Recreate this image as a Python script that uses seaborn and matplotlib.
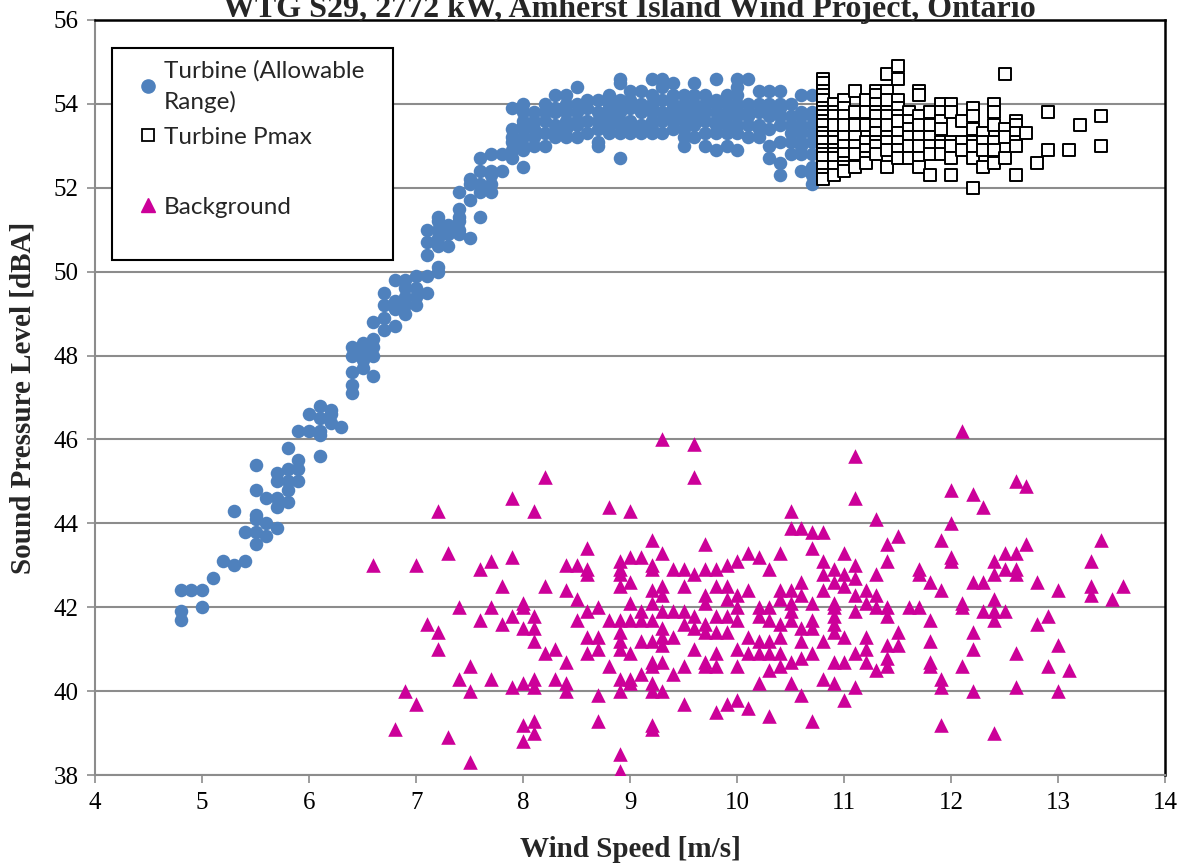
import seaborn as sns
import matplotlib.pyplot as plt
import matplotlib.lines as mlines
from matplotlib.patches import Rectangle
import pandas as pd

# turbine operating in allowable range: (wind speed, SPL)
turbine_pts = [
    (4.8, 42.4), (4.8, 41.9), (4.8, 41.7), (4.9, 42.4), (5.0, 42.4), (5.0, 42.0),
    (5.1, 42.7), (5.2, 43.1), (5.3, 43.0), (5.3, 44.3), (5.4, 43.1), (5.4, 43.8),
    (5.5, 43.5), (5.5, 43.8), (5.5, 44.1), (5.5, 44.2), (5.5, 44.8), (5.5, 45.4),
    (5.6, 43.7), (5.6, 44.0), (5.6, 44.6),
    (5.7, 43.9), (5.7, 44.4), (5.7, 44.6), (5.7, 45.0), (5.7, 45.2),
    (5.8, 44.5), (5.8, 44.8), (5.8, 45.0), (5.8, 45.3), (5.8, 45.8),
    (5.9, 45.0), (5.9, 45.3), (5.9, 45.5), (5.9, 46.2), (6.0, 46.2), (6.0, 46.6),
    (6.1, 45.6), (6.1, 46.1), (6.1, 46.2), (6.1, 46.5), (6.1, 46.8),
    (6.2, 46.4), (6.2, 46.6), (6.2, 46.7), (6.3, 46.3),
    (6.4, 47.1), (6.4, 47.3), (6.4, 47.6), (6.4, 48.0), (6.4, 48.2),
    (6.5, 47.7), (6.5, 47.9), (6.5, 48.1), (6.5, 48.3),
    (6.6, 47.5), (6.6, 48.0), (6.6, 48.2), (6.6, 48.4), (6.6, 48.8),
    (6.7, 48.6), (6.7, 48.9), (6.7, 49.2), (6.7, 49.5),
    (6.8, 48.7), (6.8, 49.1), (6.8, 49.3), (6.8, 49.8),
    (6.9, 49.0), (6.9, 49.2), (6.9, 49.4), (6.9, 49.6), (6.9, 49.8),
    (7.0, 49.2), (7.0, 49.4), (7.0, 49.6), (7.0, 49.9),
    (7.1, 49.5), (7.1, 49.9), (7.1, 50.4), (7.1, 50.7), (7.1, 51.0),
    (7.2, 50.0), (7.2, 50.1), (7.2, 50.6), (7.2, 50.8), (7.2, 51.0), (7.2, 51.2), (7.2, 51.3),
    (7.3, 50.6), (7.3, 50.9), (7.3, 51.1),
    (7.4, 50.9), (7.4, 51.0), (7.4, 51.2), (7.4, 51.3), (7.4, 51.5), (7.4, 51.9),
    (7.5, 50.8), (7.5, 51.7), (7.5, 52.1), (7.5, 52.2),
    (7.6, 51.3), (7.6, 51.9), (7.6, 52.1), (7.6, 52.4), (7.6, 52.7),
    (7.7, 51.9), (7.7, 52.1), (7.7, 52.3), (7.7, 52.4), (7.7, 52.8),
    (7.8, 52.4), (7.8, 52.8),
    (7.9, 52.7), (7.9, 52.9), (7.9, 53.1), (7.9, 53.2), (7.9, 53.4), (7.9, 53.9),
    (8.0, 52.5), (8.0, 52.9), (8.0, 53.0), (8.0, 53.2), (8.0, 53.4), (8.0, 53.5),
    (8.0, 53.6), (8.0, 53.8), (8.0, 54.0),
    (8.1, 53.0), (8.1, 53.2), (8.1, 53.4), (8.1, 53.6), (8.1, 53.8),
    (8.2, 53.0), (8.2, 53.3), (8.2, 53.6), (8.2, 53.8), (8.2, 54.0),
    (8.3, 53.2), (8.3, 53.3), (8.3, 53.5), (8.3, 53.8), (8.3, 53.9), (8.3, 54.2),
    (8.4, 53.2), (8.4, 53.4), (8.4, 53.6), (8.4, 53.8), (8.4, 54.0), (8.4, 54.2),
    (8.5, 53.2), (8.5, 53.5), (8.5, 53.6), (8.5, 53.8), (8.5, 54.0), (8.5, 54.4),
    (8.6, 53.3), (8.6, 53.6), (8.6, 53.9), (8.6, 54.1),
    (8.7, 53.0), (8.7, 53.1), (8.7, 53.4), (8.7, 53.6), (8.7, 53.8), (8.7, 54.1),
    (8.8, 53.3), (8.8, 53.5), (8.8, 53.7), (8.8, 53.9), (8.8, 54.0), (8.8, 54.2),
    (8.9, 52.7), (8.9, 53.3), (8.9, 53.5), (8.9, 53.6), (8.9, 53.8), (8.9, 53.9),
    (8.9, 54.1), (8.9, 54.5), (8.9, 54.6),
    (9.0, 53.3), (9.0, 53.4), (9.0, 53.6), (9.0, 53.9), (9.0, 54.1), (9.0, 54.3),
    (9.1, 53.3), (9.1, 53.5), (9.1, 53.8), (9.1, 54.0), (9.1, 54.3),
    (9.2, 53.3), (9.2, 53.4), (9.2, 53.6), (9.2, 53.8), (9.2, 53.9), (9.2, 54.0),
    (9.2, 54.2), (9.2, 54.6),
    (9.3, 53.3), (9.3, 53.6), (9.3, 53.8), (9.3, 54.1), (9.3, 54.4), (9.3, 54.6),
    (9.4, 53.4), (9.4, 53.6), (9.4, 53.7), (9.4, 53.9), (9.4, 54.0), (9.4, 54.2), (9.4, 54.5),
    (9.5, 53.0), (9.5, 53.2), (9.5, 53.4), (9.5, 53.6), (9.5, 53.8), (9.5, 53.9),
    (9.5, 54.0), (9.5, 54.2),
    (9.6, 53.2), (9.6, 53.5), (9.6, 53.7), (9.6, 53.9), (9.6, 54.0), (9.6, 54.2), (9.6, 54.5),
    (9.7, 53.0), (9.7, 53.3), (9.7, 53.6), (9.7, 53.8), (9.7, 54.0), (9.7, 54.2),
    (9.8, 52.9), (9.8, 53.3), (9.8, 53.5), (9.8, 53.6), (9.8, 53.8), (9.8, 54.0),
    (9.8, 54.1), (9.8, 54.6),
    (9.9, 53.0), (9.9, 53.3), (9.9, 53.5), (9.9, 53.7), (9.9, 53.8), (9.9, 54.0), (9.9, 54.2),
    (10.0, 52.9), (10.0, 53.3), (10.0, 53.5), (10.0, 53.7), (10.0, 53.8), (10.0, 54.0),
    (10.0, 54.2), (10.0, 54.4), (10.0, 54.6),
    (10.1, 53.2), (10.1, 53.5), (10.1, 53.7), (10.1, 53.8), (10.1, 54.0), (10.1, 54.6),
    (10.2, 53.2), (10.2, 53.4), (10.2, 53.5), (10.2, 53.8), (10.2, 54.0), (10.2, 54.3),
    (10.3, 52.7), (10.3, 53.0), (10.3, 53.4), (10.3, 53.7), (10.3, 53.8), (10.3, 54.0), (10.3, 54.3),
    (10.4, 52.3), (10.4, 52.6), (10.4, 53.1), (10.4, 53.5), (10.4, 53.7), (10.4, 53.9),
    (10.4, 54.0), (10.4, 54.3),
    (10.5, 52.8), (10.5, 53.1), (10.5, 53.3), (10.5, 53.5), (10.5, 53.7), (10.5, 54.0),
    (10.6, 52.4), (10.6, 52.8), (10.6, 53.0), (10.6, 53.1), (10.6, 53.3), (10.6, 53.5),
    (10.6, 53.7), (10.6, 53.8), (10.6, 54.2),
    (10.7, 52.1), (10.7, 52.3), (10.7, 52.5), (10.7, 52.8), (10.7, 53.1), (10.7, 53.3),
    (10.7, 53.5), (10.7, 53.7), (10.7, 53.8), (10.7, 54.2),
]

# turbine at max power
pmax_pts = [
    (10.8, 54.6), (10.8, 54.5), (10.8, 54.3), (10.8, 54.2), (10.8, 54.1), (10.8, 53.9),
    (10.8, 53.8), (10.8, 53.7), (10.8, 53.6), (10.8, 53.5), (10.8, 53.3), (10.8, 53.2),
    (10.8, 53.1), (10.8, 52.9), (10.8, 52.8), (10.8, 52.7), (10.8, 52.5), (10.8, 52.3), (10.8, 52.2),
    (10.9, 54.0), (10.9, 53.8), (10.9, 53.7), (10.9, 53.5), (10.9, 53.2), (10.9, 53.1),
    (10.9, 52.9), (10.9, 52.8), (10.9, 52.7), (10.9, 52.5), (10.9, 52.3),
    (11.0, 54.1), (11.0, 53.9), (11.0, 53.7), (11.0, 53.5), (11.0, 53.2), (11.0, 53.0),
    (11.0, 52.8), (11.0, 52.6), (11.0, 52.5), (11.0, 52.4),
    (11.1, 54.3), (11.1, 53.8), (11.1, 53.5), (11.1, 53.2), (11.1, 53.0), (11.1, 52.8), (11.1, 52.5),
    (11.2, 54.1), (11.2, 53.8), (11.2, 53.5), (11.2, 53.1), (11.2, 52.9), (11.2, 52.7), (11.2, 52.6),
    (11.3, 54.3), (11.3, 54.2), (11.3, 54.0), (11.3, 53.8), (11.3, 53.7), (11.3, 53.5),
    (11.3, 53.3), (11.3, 53.1), (11.3, 53.0), (11.3, 52.8),
    (11.4, 54.7), (11.4, 54.3), (11.4, 54.1), (11.4, 53.8), (11.4, 53.7), (11.4, 53.5),
    (11.4, 53.2), (11.4, 53.1), (11.4, 52.9), (11.4, 52.5),
    (11.5, 54.9), (11.5, 54.6), (11.5, 54.1), (11.5, 53.9), (11.5, 53.7), (11.5, 53.6),
    (11.5, 53.3), (11.5, 53.1), (11.5, 52.9), (11.5, 52.7),
    (11.6, 53.8), (11.6, 53.6), (11.6, 53.4), (11.6, 53.2), (11.6, 53.0), (11.6, 52.7),
    (11.7, 54.3), (11.7, 54.2), (11.7, 53.7), (11.7, 53.5), (11.7, 53.2), (11.7, 53.0),
    (11.7, 52.7), (11.7, 52.5),
    (11.8, 53.8), (11.8, 53.5), (11.8, 53.2), (11.8, 53.0), (11.8, 52.8), (11.8, 52.3),
    (11.9, 54.0), (11.9, 53.8), (11.9, 53.6), (11.9, 53.4), (11.9, 53.1), (11.9, 53.0), (11.9, 52.8),
    (12.0, 54.0), (12.0, 53.8), (12.0, 53.1), (12.0, 53.0), (12.0, 52.7), (12.0, 52.3),
    (12.1, 53.6), (12.1, 53.1), (12.1, 52.9),
    (12.2, 53.9), (12.2, 53.7), (12.2, 53.4), (12.2, 53.1), (12.2, 53.0), (12.2, 52.7), (12.2, 52.0),
    (12.3, 53.3), (12.3, 53.1), (12.3, 52.9), (12.3, 52.5),
    (12.4, 54.0), (12.4, 53.8), (12.4, 53.5), (12.4, 53.1), (12.4, 52.9), (12.4, 52.6),
    (12.5, 54.7), (12.5, 53.4), (12.5, 53.2), (12.5, 52.7),
    (12.6, 53.6), (12.6, 53.5), (12.6, 53.3), (12.6, 53.1), (12.6, 53.0), (12.6, 52.3),
    (12.7, 53.3), (12.8, 52.6), (12.9, 53.8), (12.9, 52.9), (13.1, 52.9), (13.2, 53.5),
    (13.4, 53.7), (13.4, 53.0),
]

# background (turbine off)
background_pts = [
    (6.6, 43.0), (6.8, 39.1), (6.9, 40.0), (7.0, 39.7), (7.0, 43.0), (7.1, 41.6),
    (7.2, 44.3), (7.2, 41.4), (7.2, 41.0), (7.3, 43.3), (7.3, 38.9), (7.4, 42.0), (7.4, 40.3),
    (7.5, 40.6), (7.5, 40.0), (7.5, 38.3), (7.6, 42.9), (7.6, 41.7),
    (7.7, 43.1), (7.7, 42.0), (7.7, 40.3), (7.8, 42.5), (7.8, 41.6),
    (7.9, 44.6), (7.9, 43.2), (7.9, 41.8), (7.9, 40.1),
    (8.0, 42.1), (8.0, 42.0), (8.0, 41.5), (8.0, 40.2), (8.0, 39.2), (8.0, 38.8),
    (8.1, 44.3), (8.1, 41.8), (8.1, 41.5), (8.1, 41.2), (8.1, 40.3), (8.1, 40.1),
    (8.1, 39.3), (8.1, 39.0),
    (8.2, 45.1), (8.2, 42.5), (8.2, 40.9), (8.3, 41.0), (8.3, 40.3),
    (8.4, 43.0), (8.4, 42.4), (8.4, 40.7), (8.4, 40.2), (8.4, 40.0),
    (8.5, 43.0), (8.5, 42.2), (8.5, 41.7),
    (8.6, 43.4), (8.6, 42.9), (8.6, 42.8), (8.6, 41.9), (8.6, 41.3), (8.6, 40.9),
    (8.7, 42.0), (8.7, 41.3), (8.7, 41.0), (8.7, 39.9), (8.7, 39.3),
    (8.8, 44.4), (8.8, 41.7), (8.8, 40.6),
    (8.9, 43.1), (8.9, 42.9), (8.9, 42.8), (8.9, 42.5), (8.9, 41.7), (8.9, 41.4),
    (8.9, 41.2), (8.9, 41.0), (8.9, 40.3), (8.9, 40.0), (8.9, 38.5), (8.9, 38.1),
    (9.0, 44.3), (9.0, 43.2), (9.0, 42.6), (9.0, 42.1), (9.0, 41.7), (9.0, 40.9),
    (9.0, 40.3), (9.0, 40.2),
    (9.1, 43.2), (9.1, 41.9), (9.1, 41.7), (9.1, 41.2), (9.1, 40.4),
    (9.2, 43.6), (9.2, 43.0), (9.2, 42.9), (9.2, 42.4), (9.2, 42.1), (9.2, 41.7),
    (9.2, 41.2), (9.2, 40.7), (9.2, 40.6), (9.2, 40.2), (9.2, 40.0), (9.2, 39.2), (9.2, 39.1),
    (9.3, 46.0), (9.3, 43.3), (9.3, 42.5), (9.3, 42.3), (9.3, 41.9), (9.3, 41.5),
    (9.3, 41.3), (9.3, 41.1), (9.3, 40.7), (9.3, 40.0),
    (9.4, 42.9), (9.4, 41.9), (9.4, 41.3), (9.4, 40.4),
    (9.5, 42.9), (9.5, 42.5), (9.5, 41.9), (9.5, 41.6), (9.5, 40.6), (9.5, 39.7),
    (9.6, 45.9), (9.6, 45.1), (9.6, 42.8), (9.6, 41.8), (9.6, 41.5), (9.6, 41.0),
    (9.7, 43.5), (9.7, 42.9), (9.7, 42.3), (9.7, 42.1), (9.7, 41.6), (9.7, 41.4),
    (9.7, 40.7), (9.7, 40.6),
    (9.8, 42.9), (9.8, 42.5), (9.8, 41.8), (9.8, 41.4), (9.8, 40.9), (9.8, 40.6), (9.8, 39.5),
    (9.9, 43.0), (9.9, 42.5), (9.9, 42.2), (9.9, 41.8), (9.9, 41.4), (9.9, 39.7),
    (10.0, 43.1), (10.0, 42.3), (10.0, 42.0), (10.0, 41.7), (10.0, 41.0), (10.0, 40.6), (10.0, 39.8),
    (10.1, 43.3), (10.1, 42.4), (10.1, 41.3), (10.1, 40.9), (10.1, 39.6),
    (10.2, 43.2), (10.2, 42.0), (10.2, 41.8), (10.2, 41.2), (10.2, 40.9), (10.2, 40.2),
    (10.3, 42.9), (10.3, 42.0), (10.3, 41.7), (10.3, 41.2), (10.3, 40.9), (10.3, 40.5), (10.3, 39.4),
    (10.4, 43.3), (10.4, 42.4), (10.4, 42.2), (10.4, 41.6), (10.4, 41.3), (10.4, 40.9), (10.4, 40.6),
    (10.5, 44.3), (10.5, 43.9), (10.5, 42.4), (10.5, 42.1), (10.5, 41.9), (10.5, 41.7),
    (10.5, 40.7), (10.5, 40.2),
    (10.6, 43.9), (10.6, 42.6), (10.6, 42.3), (10.6, 41.5), (10.6, 41.2), (10.6, 40.8), (10.6, 39.9),
    (10.7, 43.8), (10.7, 43.4), (10.7, 42.1), (10.7, 41.7), (10.7, 41.5), (10.7, 40.9), (10.7, 39.3),
    (10.8, 43.8), (10.8, 43.1), (10.8, 42.8), (10.8, 42.4), (10.8, 41.2), (10.8, 40.3),
    (10.9, 42.9), (10.9, 42.6), (10.9, 42.1), (10.9, 42.0), (10.9, 41.8), (10.9, 41.6),
    (10.9, 41.4), (10.9, 40.7), (10.9, 40.2),
    (11.0, 43.3), (11.0, 42.8), (11.0, 42.5), (11.0, 41.3), (11.0, 40.7), (11.0, 39.8),
    (11.1, 45.6), (11.1, 44.6), (11.1, 43.0), (11.1, 42.7), (11.1, 42.3), (11.1, 41.9),
    (11.1, 40.9), (11.1, 40.1),
    (11.2, 42.4), (11.2, 42.1), (11.2, 41.3), (11.2, 41.0), (11.2, 40.7),
    (11.3, 44.1), (11.3, 42.8), (11.3, 42.3), (11.3, 42.0), (11.3, 40.5),
    (11.4, 43.5), (11.4, 43.1), (11.4, 42.0), (11.4, 41.8), (11.4, 41.1), (11.4, 40.8), (11.4, 40.6),
    (11.5, 43.7), (11.5, 41.4), (11.5, 41.1), (11.6, 42.0),
    (11.7, 42.9), (11.7, 42.8), (11.7, 42.0),
    (11.8, 42.6), (11.8, 41.7), (11.8, 41.2), (11.8, 40.7), (11.8, 40.6),
    (11.9, 43.6), (11.9, 42.4), (11.9, 40.3), (11.9, 40.1), (11.9, 39.2),
    (12.0, 44.8), (12.0, 44.0), (12.0, 43.2), (12.0, 43.1),
    (12.1, 46.2), (12.1, 42.1), (12.1, 42.0), (12.1, 40.6),
    (12.2, 44.7), (12.2, 42.6), (12.2, 41.4), (12.2, 41.0), (12.2, 40.0),
    (12.3, 44.4), (12.3, 42.6), (12.3, 41.9),
    (12.4, 43.1), (12.4, 42.8), (12.4, 42.2), (12.4, 41.9), (12.4, 41.7), (12.4, 39.0),
    (12.5, 43.3), (12.5, 42.9), (12.5, 41.9),
    (12.6, 45.0), (12.6, 43.3), (12.6, 42.9), (12.6, 42.8), (12.6, 40.9), (12.6, 40.1),
    (12.7, 44.9), (12.7, 43.5), (12.8, 42.6), (12.8, 41.6), (12.9, 41.8), (12.9, 40.6),
    (13.0, 42.4), (13.0, 41.1), (13.0, 40.0), (13.1, 40.5),
    (13.3, 43.1), (13.3, 42.5), (13.3, 42.3), (13.4, 43.6), (13.5, 42.2), (13.6, 42.5),
]

turbine = pd.DataFrame(turbine_pts, columns=['ws', 'spl'])
pmax = pd.DataFrame(pmax_pts, columns=['ws', 'spl'])
background = pd.DataFrame(background_pts, columns=['ws', 'spl'])

sns.set_style('white')
plt.rcParams['font.family'] = ['Liberation Serif', 'DejaVu Serif']

fig, ax = plt.subplots(figsize=(11.88, 8.65), dpi=100)
fig.subplots_adjust(left=0.080, right=0.981, top=0.977, bottom=0.104)

sns.scatterplot(data=turbine, x='ws', y='spl', ax=ax, marker='o', s=95,
                color='#4F81BD', linewidth=0, zorder=3)
sns.scatterplot(data=pmax, x='ws', y='spl', ax=ax, marker='s', s=70,
                facecolor='white', edgecolor='black', linewidth=1.4, zorder=4)
sns.scatterplot(data=background, x='ws', y='spl', ax=ax, marker='^', s=110,
                color='#CC0099', linewidth=0, zorder=3)

ax.set_xlim(4, 14)
ax.set_ylim(38, 56)
ax.set_xticks(range(4, 15))
ax.set_yticks(range(38, 57, 2))
ax.yaxis.grid(True, color='#8C8C8C', linewidth=1.5, zorder=0)
ax.xaxis.grid(False)

for side in ['left', 'bottom']:
    ax.spines[side].set_color('#8C8C8C')
    ax.spines[side].set_linewidth(1.5)
for side in ['top', 'right']:
    ax.spines[side].set_color('black')
    ax.spines[side].set_linewidth(1.8)

ax.tick_params(axis='both', direction='out', length=6, width=1.2, color='#8C8C8C',
               labelsize=18, labelcolor='black', bottom=True, left=True, pad=6)

ax.set_xlabel('Wind Speed [m/s]', fontsize=21, fontweight='bold', labelpad=16)
ax.set_ylabel('Sound Pressure Level [dBA]', fontsize=21, fontweight='bold', labelpad=12)

fig.text(0.53, 1 - 17 / 865, 'WTG S29, 2772 kW, Amherst Island Wind Project, Ontario',
         ha='center', va='baseline', fontsize=23, fontweight='bold')

# legend frame drawn separately so its padding matches the original box
ax.add_patch(Rectangle((0.0159, 0.6821), 0.2626, 0.2808, transform=ax.transAxes,
                       facecolor='white', edgecolor='black', linewidth=1.5, zorder=9))

h1 = mlines.Line2D([], [], marker='o', color='#4F81BD', linestyle='none', markersize=9.5)
h2 = mlines.Line2D([], [], marker='s', markerfacecolor='white', markeredgecolor='black',
                   markeredgewidth=1.3, linestyle='none', markersize=8)
h_blank = mlines.Line2D([], [], linestyle='none', marker=None)
h3 = mlines.Line2D([], [], marker='^', color='#CC0099', linestyle='none', markersize=10.5)
leg = ax.legend([h1, h2, h_blank, h3],
                ['Turbine (Allowable\nRange)', 'Turbine Pmax', ' ', 'Background'],
                loc='upper left', bbox_to_anchor=(0.0383, 0.947), frameon=False,
                prop={'family': 'Lato', 'size': 17.5}, handletextpad=0.15,
                handlelength=1.0, labelspacing=0.58, borderpad=0, borderaxespad=0)
for t in leg.get_texts():
    t.set_linespacing(1.5)
leg.set_zorder(10)

fig.savefig('out.png', dpi=100)
